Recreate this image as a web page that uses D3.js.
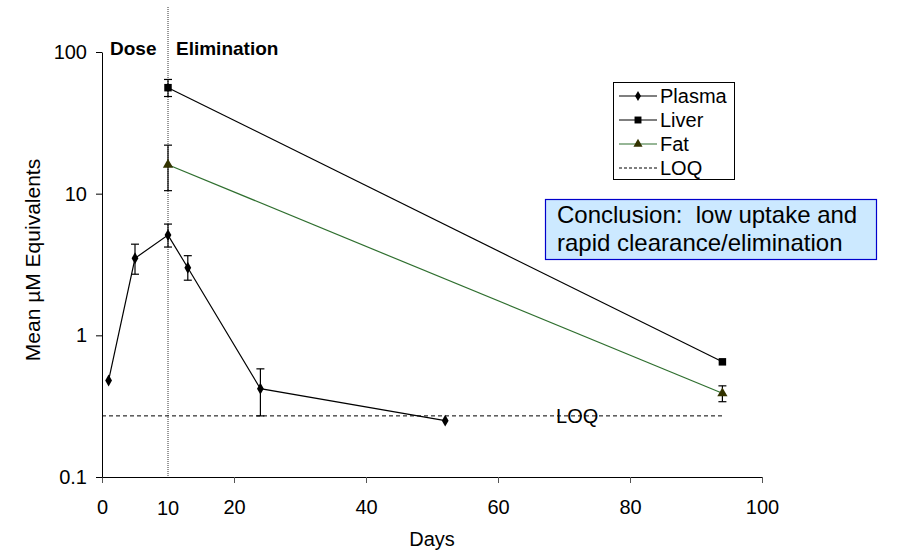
<!DOCTYPE html>
<html>
<head>
<meta charset="utf-8">
<script src="https://cdn.jsdelivr.net/npm/d3@7/dist/d3.min.js"></script>
<style>
  body { margin: 0; background: #fff; }
  svg { display: block; font-family: "Liberation Sans", Arial, sans-serif; }
</style>
</head>
<body>
<svg id="chart" width="921" height="550"></svg>
<script>
// data
const plasmaDays = [1, 5, 10, 13, 24, 52];
const plasmaMean = [0.48, 3.5, 5.1, 3.0, 0.42, 0.25];
const plasmaHigh = [null, 4.4, 6.1, 3.65, 0.58, null];
const plasmaLow = [null, 2.7, 4.2, 2.45, 0.27, null];

const liverDays = [10, 94];
const liverMean = [56, 0.65];
const liverHigh = [64, null];
const liverLow = [48.5, null];

const fatDays = [10, 94];
const fatMean = [16, 0.39];
const fatHigh = [22, 0.44];
const fatLow = [10.5, 0.34];

const loqValue = 0.27;
const loqDays = [0, 94];

const xTicks = [0, 20, 40, 60, 80, 100];
const yTicks = [0.1, 1, 10, 100];
const doseDay = 10;

const svg = d3.select("#chart");

const x = d3.scaleLinear().domain([0, 100]).range([102, 762]);
const y = d3.scaleLog().domain([0.1, 100]).range([477, 52]);

// axes
const xAxis = d3.axisBottom(x).tickValues(xTicks).tickSize(6).tickSizeOuter(0).tickPadding(17);
const gx = svg.append("g").attr("transform", `translate(0,${y(0.1)})`).call(xAxis);
gx.attr("font-size", 20).attr("font-family", null);
gx.select(".domain").attr("d", `M96,0.5H${x(100)}`).attr("stroke", "#000");
gx.selectAll(".tick line").attr("stroke", "#555");
gx.selectAll(".tick text").attr("fill", "#000");

const yAxis = d3.axisLeft(y).tickValues(yTicks).tickFormat(d => d).tickSize(6).tickSizeOuter(0).tickPadding(9);
const gy = svg.append("g").attr("transform", `translate(${x(0)},0)`).call(yAxis);
gy.attr("font-size", 20).attr("font-family", null);
gy.select(".domain").attr("stroke", "#000");
gy.selectAll(".tick line").attr("stroke", "#000");
gy.selectAll(".tick text").attr("fill", "#000");

// "10" label under the dose line
svg.append("text").attr("x", x(doseDay)).attr("y", 515).attr("text-anchor", "middle")
  .attr("font-size", 20).text(doseDay);

// axis titles
svg.append("text").attr("x", 432).attr("y", 546).attr("text-anchor", "middle").attr("font-size", 20).text("Days");
svg.append("text").attr("transform", `translate(40,260) rotate(-90)`).attr("text-anchor", "middle")
  .attr("font-size", 21).text("Mean µM Equivalents");

// dose / elimination divider
svg.append("line").attr("x1", x(doseDay)).attr("x2", x(doseDay)).attr("y1", 7).attr("y2", y(0.1))
  .attr("stroke", "#333").attr("stroke-width", 1).attr("stroke-dasharray", "1,1");
svg.append("text").attr("x", 110).attr("y", 55).attr("font-size", 19).attr("font-weight", "bold").text("Dose");
svg.append("text").attr("x", 176).attr("y", 55).attr("font-size", 19).attr("font-weight", "bold").text("Elimination");

// LOQ line
svg.append("line").attr("x1", x(loqDays[0])).attr("x2", x(loqDays[1]))
  .attr("y1", y(loqValue)).attr("y2", y(loqValue))
  .attr("stroke", "#000").attr("stroke-dasharray", "4,3");
svg.append("text").attr("x", x(72)).attr("y", y(loqValue)).attr("dy", "0.36em")
  .attr("text-anchor", "middle").attr("font-size", 20).text("LOQ");

const line = d3.line().x(d => x(d[0])).y(d => y(d[1]));

function drawSeries(days, mean, high, low, color, markerColor, symbol, size) {
  const pts = days.map((d, i) => [d, mean[i]]);
  svg.append("path").attr("d", line(pts)).attr("fill", "none").attr("stroke", color).attr("stroke-width", 1.2);
  days.forEach((d, i) => {
    if (high[i] == null) return;
    const g = svg.append("g").attr("stroke", "#000").attr("stroke-width", 1.2);
    g.append("line").attr("x1", x(d)).attr("x2", x(d)).attr("y1", y(high[i])).attr("y2", y(low[i]));
    g.append("line").attr("x1", x(d) - 4).attr("x2", x(d) + 4).attr("y1", y(high[i])).attr("y2", y(high[i]));
    g.append("line").attr("x1", x(d) - 4).attr("x2", x(d) + 4).attr("y1", y(low[i])).attr("y2", y(low[i]));
  });
  svg.selectAll(null).data(pts).enter().append("path")
    .attr("transform", d => `translate(${x(d[0])},${y(d[1])})`)
    .attr("d", d3.symbol().type(symbol).size(size))
    .attr("fill", markerColor);
}

drawSeries(plasmaDays, plasmaMean, plasmaHigh, plasmaLow, "#000", "#000", d3.symbolDiamond, 40);
drawSeries(liverDays, liverMean, liverHigh, liverLow, "#000", "#000", d3.symbolSquare, 56);
drawSeries(fatDays, fatMean, fatHigh, fatLow, "#2f6f2f", "#333300", d3.symbolTriangle, 45);

// legend
const legend = [
  { name: "Plasma", color: "#000", marker: "#000", symbol: d3.symbolDiamond, size: 30 },
  { name: "Liver", color: "#000", marker: "#000", symbol: d3.symbolSquare, size: 48 },
  { name: "Fat", color: "#2f6f2f", marker: "#333300", symbol: d3.symbolTriangle, size: 36 },
  { name: "LOQ", color: "#000", dash: "3,2" }
];
const lg = svg.append("g");
lg.append("rect").attr("x", 613.5).attr("y", 82.5).attr("width", 121).attr("height", 97)
  .attr("fill", "#fff").attr("stroke", "#000");
legend.forEach((d, i) => {
  const cy = 96 + i * 24;
  lg.append("line").attr("x1", 619).attr("x2", 657).attr("y1", cy).attr("y2", cy)
    .attr("stroke", d.color).attr("stroke-width", 1.2).attr("stroke-dasharray", d.dash || null);
  if (d.symbol) {
    lg.append("path").attr("transform", `translate(638,${cy})`)
      .attr("d", d3.symbol().type(d.symbol).size(d.size)).attr("fill", d.marker);
  }
  lg.append("text").attr("x", 660).attr("y", cy).attr("dy", "0.36em").attr("font-size", 20).text(d.name);
});

// conclusion box
svg.append("rect").attr("x", 545.5).attr("y", 199.5).attr("width", 331).attr("height", 60)
  .attr("fill", "#cce9ff").attr("stroke", "#0000cc").attr("stroke-width", 1.2);
const conc = svg.append("text").attr("font-size", 24);
conc.append("tspan").attr("x", 557).attr("y", 223).attr("xml:space", "preserve").text("Conclusion:  low uptake and");
conc.append("tspan").attr("x", 557).attr("y", 251).text("rapid clearance/elimination");
</script>
</body>
</html>
